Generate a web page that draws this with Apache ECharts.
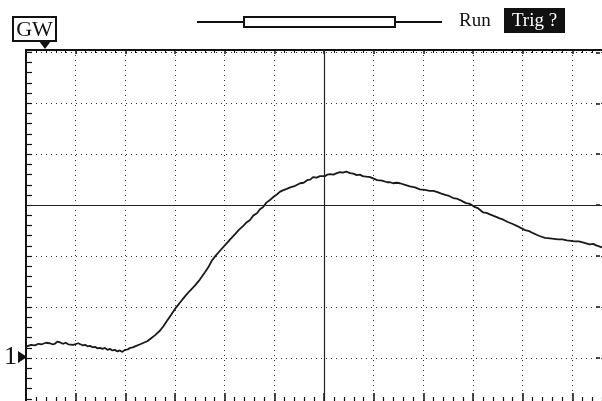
<!DOCTYPE html>
<html><head><meta charset="utf-8">
<script src="https://cdn.jsdelivr.net/npm/echarts@6/dist/echarts.min.js"></script>
<style>html,body{margin:0;padding:0;background:#fff;overflow:hidden;width:602px;height:401px}#c{width:622px;height:409px}</style>
</head><body><div id="c"></div>
<script>
// time in divisions (screen is 12 div wide, cropped at ~11.6)
const timeDiv = [0.02,0.10,0.18,0.25,0.32,0.40,0.48,0.53,0.58,0.63,0.68,0.74,0.80,0.85,0.89,0.95,0.99,1.05,1.09,1.14,1.19,1.24,1.29,1.34,1.39,1.44,1.49,1.54,1.59,1.64,1.69,1.74,1.79,1.84,1.89,1.94,1.99,2.05,2.10,2.15,2.22,2.30,2.37,2.44,2.52,2.60,2.70,2.77,2.84,2.93,3.02,3.11,3.20,3.30,3.40,3.50,3.60,3.67,3.74,3.82,3.91,4.03,4.12,4.21,4.29,4.37,4.44,4.51,4.58,4.65,4.71,4.77,4.84,4.91,4.98,5.05,5.11,5.17,5.25,5.32,5.42,5.52,5.59,5.66,5.72,5.78,5.85,5.92,6.02,6.07,6.12,6.19,6.26,6.32,6.38,6.45,6.52,6.59,6.66,6.72,6.78,6.85,6.93,7.00,7.07,7.17,7.27,7.33,7.39,7.46,7.53,7.63,7.73,7.83,7.93,8.03,8.13,8.20,8.27,8.35,8.44,8.52,8.60,8.67,8.74,8.80,8.86,8.92,8.98,9.04,9.10,9.15,9.20,9.27,9.34,9.44,9.54,9.62,9.70,9.80,9.89,9.97,10.05,10.13,10.21,10.28,10.35,10.45,10.55,10.63,10.71,10.80,10.89,10.97,11.05,11.13,11.21,11.28,11.35,11.42,11.48,11.54,11.60];
// voltage in divisions (0 = centre line)
const voltDiv = [-2.77,-2.74,-2.75,-2.72,-2.73,-2.70,-2.71,-2.73,-2.72,-2.68,-2.69,-2.72,-2.70,-2.73,-2.71,-2.74,-2.73,-2.71,-2.72,-2.75,-2.74,-2.77,-2.76,-2.79,-2.78,-2.81,-2.80,-2.82,-2.80,-2.84,-2.82,-2.85,-2.84,-2.87,-2.85,-2.88,-2.84,-2.83,-2.80,-2.79,-2.76,-2.73,-2.70,-2.67,-2.61,-2.55,-2.46,-2.37,-2.27,-2.14,-2.01,-1.90,-1.79,-1.68,-1.58,-1.46,-1.32,-1.22,-1.09,-0.99,-0.89,-0.76,-0.66,-0.57,-0.48,-0.41,-0.34,-0.29,-0.20,-0.16,-0.08,-0.04,0.05,0.10,0.16,0.21,0.26,0.29,0.32,0.35,0.38,0.43,0.44,0.49,0.50,0.55,0.54,0.57,0.57,0.60,0.61,0.60,0.63,0.65,0.64,0.66,0.63,0.62,0.59,0.60,0.57,0.56,0.55,0.52,0.49,0.48,0.45,0.45,0.43,0.44,0.43,0.40,0.37,0.35,0.31,0.30,0.28,0.28,0.26,0.23,0.20,0.18,0.14,0.13,0.10,0.07,0.04,0.03,0.00,-0.04,-0.06,-0.10,-0.14,-0.15,-0.18,-0.22,-0.26,-0.29,-0.33,-0.37,-0.41,-0.45,-0.49,-0.51,-0.55,-0.58,-0.61,-0.64,-0.65,-0.66,-0.67,-0.67,-0.69,-0.70,-0.71,-0.71,-0.73,-0.75,-0.77,-0.76,-0.79,-0.81,-0.83];
const headerLabels = ['GW','Run','Trig ?','1'];

const trace = timeDiv.map((t,i)=>[t, voltDiv[i]]);
const serif = '"Liberation Serif", "DejaVu Serif", serif';
const dotted = {color:'#333', type:[1,4], width:1};

const chart = echarts.init(document.getElementById('c'), null, {renderer:'canvas'});
chart.setOption({
  animation:false,
  backgroundColor:'#fff',
  grid:{left:26, top:50, right:0, bottom:0, show:false},
  xAxis:[
    {type:'value', position:'top', min:0, max:12, interval:1,
     axisLine:{show:true, onZero:false, lineStyle:{color:'#111', width:2}},
     axisTick:{show:true, inside:true, length:4, lineStyle:{color:'#111', width:1.5}},
     minorTick:{show:true, splitNumber:5, length:3, lineStyle:{color:'#111', width:1}},
     axisLabel:{show:false}, splitLine:{show:true, lineStyle:dotted}},
    {type:'value', position:'bottom', offset:-8, min:0, max:12, interval:1,
     axisLine:{show:false, onZero:false},
     axisTick:{show:true, inside:true, length:8, lineStyle:{color:'#111', width:1.5}},
     minorTick:{show:true, splitNumber:5, length:4, lineStyle:{color:'#111', width:1.2}},
     axisLabel:{show:false}, splitLine:{show:false}}
  ],
  yAxis:[
    {type:'value', position:'left', min:-4, max:3.045, interval:1,
     axisLine:{show:true, onZero:false, lineStyle:{color:'#111', width:2}},
     axisTick:{show:true, inside:true, length:6, lineStyle:{color:'#111', width:1.2}},
     minorTick:{show:true, splitNumber:5, length:6, lineStyle:{color:'#111', width:1.2}},
     axisLabel:{show:false}, splitLine:{show:true, lineStyle:dotted}},
    {type:'value', position:'right', offset:-22, min:-4, max:3.045, interval:1,
     axisLine:{show:false, onZero:false},
     axisTick:{show:true, inside:true, length:4, lineStyle:{color:'#111', width:1.5}},
     axisLabel:{show:false}, splitLine:{show:false}}
  ],
  series:[{
    type:'line', xAxisIndex:0, yAxisIndex:0, data:trace, showSymbol:false, silent:true,
    lineStyle:{color:'#1a1a1a', width:1.8},
    markLine:{silent:true, symbol:'none', label:{show:false},
      lineStyle:{color:'#222', type:'solid', width:1.2},
      data:[{xAxis:6},{yAxis:0}]}
  }],
  graphic:[
    {type:'rect', shape:{x:13,y:17,width:43,height:24}, style:{fill:'#fff', stroke:'#111', lineWidth:2}},
    {type:'text', x:34.5, y:30, style:{text:headerLabels[0], font:'22px '+serif, fill:'#111', align:'center', verticalAlign:'middle'}},
    {type:'polygon', shape:{points:[[39,41],[51,41],[45,49]]}, style:{fill:'#111'}},
    {type:'text', x:17, y:357, style:{text:headerLabels[3], font:'26px '+serif, fill:'#111', align:'right', verticalAlign:'middle'}},
    {type:'polygon', shape:{points:[[18,351],[18,363],[27,357]]}, style:{fill:'#111'}},
    {type:'line', shape:{x1:197,y1:22,x2:244,y2:22}, style:{stroke:'#111', lineWidth:2}},
    {type:'line', shape:{x1:395,y1:22,x2:442,y2:22}, style:{stroke:'#111', lineWidth:2}},
    {type:'rect', shape:{x:244,y:17,width:151,height:10}, style:{fill:'#fff', stroke:'#111', lineWidth:2}},
    {type:'text', x:459, y:21, style:{text:headerLabels[1], font:'19px '+serif, fill:'#111', align:'left', verticalAlign:'middle'}},
    {type:'rect', shape:{x:504,y:8,width:61,height:25}, style:{fill:'#111'}},
    {type:'text', x:534.5, y:21, style:{text:headerLabels[2], font:'19px '+serif, fill:'#fff', align:'center', verticalAlign:'middle'}}
  ]
});
</script>
</body></html>
